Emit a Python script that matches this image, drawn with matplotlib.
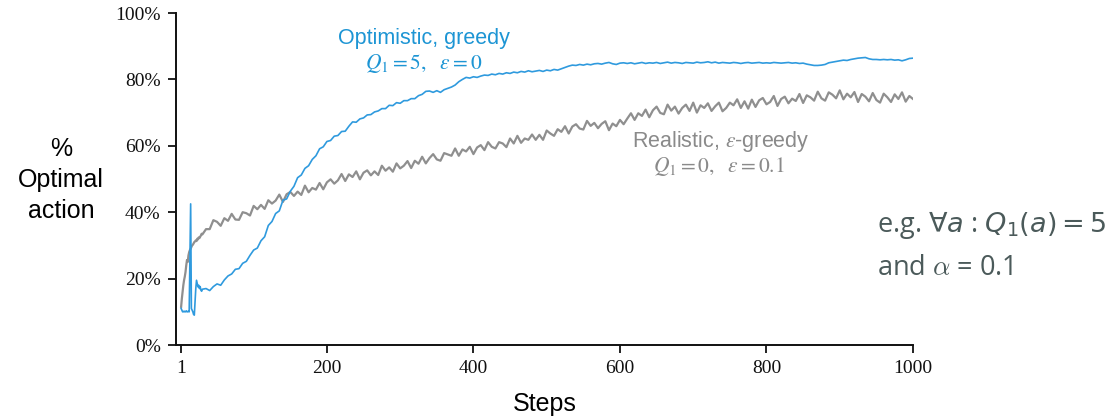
import matplotlib
matplotlib.use("Agg")
import matplotlib.pyplot as plt

# ---------------- data ----------------
steps = list(range(1, 31)) + list(range(35, 1001, 5))

optimistic_greedy = [
    11.0, 10.5, 10.0, 10.0, 10.2, 10.0, 10.0, 10.3, 10.0, 10.0,
    10.2, 10.0, 26.0, 42.5, 11.0, 10.5, 10.0, 9.2, 9.0, 13.0,
    17.0, 19.5, 18.5, 17.5, 18.0, 17.0, 17.6, 16.5, 16.2, 16.8,
    # 35 ..
    17.0, 16.4, 17.6, 18.4, 18.0, 19.6, 20.8, 21.4, 22.8, 23.0,
    24.6, 25.2, 27.0, 28.6, 29.2, 31.4, 32.6, 36.0, 37.2, 39.6,
    40.4, 43.6, 44.0, 46.3, 47.8, 50.4, 51.2, 53.2, 54.0, 55.9,
    57.0, 59.1, 59.7, 61.3, 61.6, 62.9, 63.1, 64.3, 64.4, 65.9,
    67.2, 67.1, 68.1, 68.4, 69.3, 69.4, 70.2, 70.5, 71.2, 71.2,
    72.2, 72.1, 73.0, 72.8, 73.6, 73.6, 74.2, 74.2, 75.1, 75.5,
    76.4, 76.5, 76.1, 76.6, 76.1, 76.9, 77.3, 77.7, 78.3, 79.3,
    80.0, 80.6, 80.4, 80.8, 80.6, 81.0, 81.3, 81.2, 81.6, 81.4,
    81.8, 81.6, 82.0, 81.8, 82.2, 82.0, 82.4, 82.2, 82.6, 82.3,
    82.5, 82.7, 82.4, 82.8, 82.6, 83.0, 82.8, 83.2, 83.6, 84.0,
    84.3, 84.2, 84.5, 84.3, 84.6, 84.4, 84.7, 84.8, 84.6, 84.9,
    85.1, 84.7, 84.5, 84.9, 85.0, 84.8, 85.0, 84.7, 84.9, 85.1,
    84.8, 85.0, 84.9, 85.1, 84.8, 85.0, 85.2, 84.9, 85.1, 85.0,
    84.8, 85.1, 85.0, 84.9, 85.2, 85.0, 85.1, 85.3, 85.0, 85.2,
    84.9, 85.1, 85.0, 84.9, 85.1, 85.0, 84.8, 85.0, 85.1, 84.9,
    85.0, 85.1, 84.9, 85.0, 84.9, 85.1, 85.0, 84.9, 85.0, 85.1,
    84.9, 85.0, 84.8, 84.9, 84.6, 84.4, 84.2, 84.2, 84.3, 84.5,
    85.0, 85.2, 85.4, 85.6, 85.8, 85.7, 86.0, 86.2, 86.4, 86.5,
    86.6, 86.2, 86.0, 86.0, 85.9, 86.0, 85.9, 86.0, 85.8, 85.9,
    85.6, 85.9, 86.3, 86.4,
]

realistic_eps_greedy = [
    11.5, 14.0, 16.0, 18.0, 19.5, 20.6, 22.0, 24.0, 25.6, 25.0,
    27.0, 28.0, 28.6, 29.0, 29.5, 30.0, 30.2, 30.6, 31.0, 31.2,
    31.5, 31.3, 32.0, 31.8, 32.4, 32.2, 32.6, 33.0, 33.5, 33.3,
    # 35 .. 180
    34.9, 34.9, 37.6, 37.1, 35.9, 38.2, 37.4, 39.5, 37.8, 37.7,
    40.0, 39.7, 39.0, 41.9, 40.9, 42.2, 41.0, 43.6, 42.6, 43.5,
    45.3, 43.1, 45.4, 46.1, 44.9, 46.2, 45.2, 48.0, 46.0, 47.3,
    # 185 .. 330
    46.8, 48.8, 46.9, 49.0, 49.9, 48.6, 49.6, 51.5, 49.4, 51.4,
    50.6, 52.3, 49.9, 51.9, 52.6, 51.1, 52.3, 51.2, 54.0, 52.5,
    53.5, 52.2, 54.7, 53.2, 54.0, 55.4, 53.3, 55.5, 54.6, 56.7,
    # 335 .. 480
    54.7, 56.3, 57.5, 55.9, 55.5, 57.8, 57.4, 57.0, 59.2, 57.0,
    58.9, 58.3, 59.7, 57.5, 59.5, 60.2, 58.7, 61.1, 59.7, 59.2,
    61.1, 60.7, 59.6, 62.2, 60.7, 63.0, 60.9, 62.2, 61.8, 63.4,
    # 485 .. 630
    61.8, 63.3, 61.8, 64.6, 63.7, 63.0, 65.0, 64.2, 65.9, 63.7,
    65.8, 66.5, 65.2, 64.9, 67.5, 66.0, 66.9, 65.3, 66.6, 67.4,
    64.7, 66.7, 65.9, 67.8, 66.5, 68.2, 69.8, 67.8, 69.8, 69.0,
    # 635 .. 780
    70.9, 68.6, 70.7, 71.8, 69.9, 69.5, 72.4, 70.6, 71.8, 69.7,
    71.4, 72.4, 70.5, 73.0, 70.0, 72.2, 71.4, 72.8, 70.5, 71.9,
    73.0, 70.4, 71.4, 73.0, 72.2, 74.0, 71.4, 73.4, 71.2, 73.9,
    # 785 .. 1000
    71.7, 73.7, 74.4, 72.5, 73.2, 75.0, 72.0, 74.1, 74.8, 72.8,
    74.2, 73.5, 75.6, 72.9, 75.2, 74.6, 73.6, 76.3, 74.3, 73.6,
    76.1, 75.4, 74.3, 76.7, 74.0, 75.7, 74.6, 76.2, 73.2, 75.6,
    74.8, 73.4, 75.9, 73.8, 73.0, 75.7, 74.6, 73.2, 75.5, 74.1,
    76.1, 73.3, 75.0, 74.1,
]

x_ticks = [1, 200, 400, 600, 800, 1000]
y_ticks = [0, 20, 40, 60, 80, 100]
y_tick_labels = ["0%", "20%", "40%", "60%", "80%", "100%"]

# ---------------- style ----------------
BLUE = "#2f9ade"
GRAY = "#8f8f8f"
BLUE_TXT = "#1d95d4"
GRAY_TXT = "#8a8a8a"
SLATE = "#4b5a5a"

plt.rcParams["mathtext.fontset"] = "stix"

W, H = 1112, 419
fig = plt.figure(figsize=(W / 100, H / 100), dpi=100)
ax = fig.add_axes([176 / W, 1 - 345 / H, (913 - 176) / W, (345 - 13) / H])

ax.plot(steps, realistic_eps_greedy, color=GRAY, lw=1.6, zorder=2)
ax.plot(steps, optimistic_greedy, color=BLUE, lw=1.2, zorder=3)

ax.set_xlim(-6, 1000)
ax.set_ylim(0, 100)
ax.set_xticks(x_ticks)
ax.set_xticklabels([str(t) for t in x_ticks], family="Liberation Serif", fontsize=14)
ax.set_yticks(y_ticks)
ax.set_yticklabels(y_tick_labels, family="Liberation Serif", fontsize=14)

for s in ("top", "right"):
    ax.spines[s].set_visible(False)
for s in ("left", "bottom"):
    ax.spines[s].set_linewidth(1.4)
    ax.spines[s].set_color("#111111")
ax.tick_params(direction="out", length=6, width=1.3, colors="#111111", pad=5)

# curve labels
ax.text(332, 92.3, "Optimistic, greedy", color=BLUE_TXT, fontsize=15.5,
        family="Liberation Sans", ha="center", va="center")
ax.text(332, 84.8, r"$Q_1=5,\ \ \varepsilon=0$", color=BLUE_TXT,
        fontsize=15.5, ha="center", va="center")
ax.text(737, 61.4, r"Realistic, $\varepsilon$-greedy", color=GRAY_TXT,
        fontsize=15.5, family="Liberation Sans", ha="center", va="center")
ax.text(735, 53.8, r"$Q_1=0,\ \ \varepsilon=0.1$", color=GRAY_TXT,
        fontsize=15.5, ha="center", va="center")

# axis labels
fig.text(61 / W, 1 - 180 / H, "%\nOptimal\naction", family="Liberation Sans",
         fontsize=18, ha="center", va="center", linespacing=1.35)
fig.text(545 / W, 1 - 404 / H, "Steps", family="Liberation Sans",
         fontsize=18, ha="center", va="center")

# side note
fig.text(877 / W, 1 - 225 / H, r"e.g. $\forall a$ : $Q_1(a) = 5$",
         family="Open Sans", fontsize=19.5, color=SLATE, ha="left", va="center",
         math_fontfamily="dejavusans")
fig.text(877 / W, 1 - 268 / H, r"and $\alpha$ = 0.1",
         family="Open Sans", fontsize=19.5, color=SLATE, ha="left", va="center",
         math_fontfamily="cm")

fig.savefig("out.png", dpi=100)
